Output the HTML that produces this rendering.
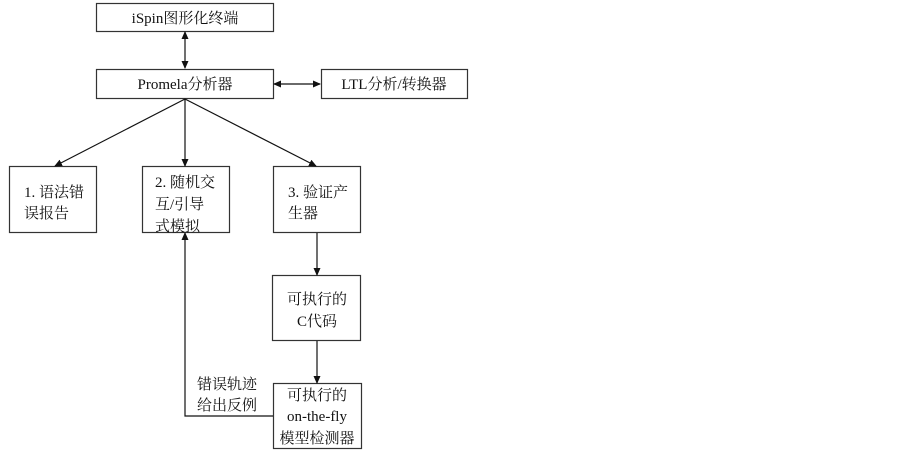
<!DOCTYPE html>
<html><head><meta charset="utf-8"><style>
body{margin:0;background:#fff;width:903px;height:451px;overflow:hidden}
svg text{font-family:"Liberation Serif","Noto Serif CJK SC",serif;font-size:15px;fill:#111}
</style></head><body>
<svg width="903" height="451" viewBox="0 0 903 451" xmlns="http://www.w3.org/2000/svg">
<defs><marker id="a" markerWidth="8" markerHeight="8" refX="7" refY="4" orient="auto-start-reverse" markerUnits="userSpaceOnUse"><path d="M0,0.5 L8,4 L0,7.5z" fill="#111"/></marker></defs>
<g fill="#fff" stroke="#333" stroke-width="1.2">
<rect x="96.5" y="3.5" width="177" height="28"/>
<rect x="96.5" y="69.5" width="177" height="29"/>
<rect x="321.5" y="69.5" width="146" height="29"/>
<rect x="9.5" y="166.5" width="87" height="66"/>
<rect x="142.5" y="166.5" width="87" height="66"/>
<rect x="273.5" y="166.5" width="87" height="66"/>
<rect x="272.5" y="275.5" width="88" height="65"/>
<rect x="273.5" y="383.5" width="88" height="65"/>
</g>
<g stroke="#111" stroke-width="1.2" fill="none">
<line x1="185" y1="32" x2="185" y2="68" marker-start="url(#a)" marker-end="url(#a)"/>
<line x1="274" y1="84" x2="320" y2="84" marker-start="url(#a)" marker-end="url(#a)"/>
<line x1="185" y1="99" x2="55" y2="166" marker-end="url(#a)"/>
<line x1="185" y1="99" x2="185" y2="166" marker-end="url(#a)"/>
<line x1="185" y1="99" x2="316" y2="166" marker-end="url(#a)"/>
<line x1="317" y1="233" x2="317" y2="275" marker-end="url(#a)"/>
<line x1="317" y1="341" x2="317" y2="383" marker-end="url(#a)"/>
<polyline points="273,416 185,416 185,233" marker-end="url(#a)"/>
</g>
<g text-anchor="middle">
<text x="185" y="23">iSpin图形化终端</text>
<text x="185" y="89">Promela分析器</text>
<text x="394" y="89">LTL分析/转换器</text>
</g>
<text x="24" y="197">1. 语法错</text><text x="24" y="218">误报告</text>
<text x="155" y="187">2. 随机交</text><text x="155" y="209">互/引导</text><text x="155" y="231">式模拟</text>
<text x="288" y="197">3. 验证产</text><text x="288" y="218">生器</text>
<g text-anchor="middle">
<text x="317" y="304">可执行的</text><text x="317" y="326">C代码</text>
<text x="317" y="400">可执行的</text><text x="317" y="421">on-the-fly</text><text x="317" y="443">模型检测器</text>
</g>
<text x="197" y="389">错误轨迹</text><text x="197" y="410">给出反例</text>
</svg>
</body></html>
